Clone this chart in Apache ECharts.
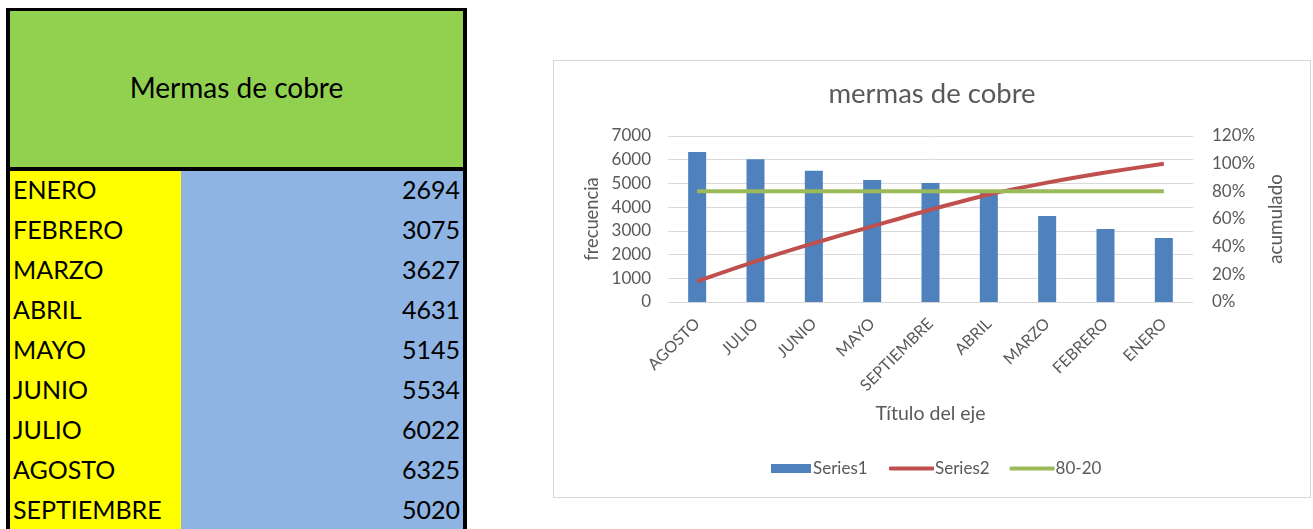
<!DOCTYPE html>
<html>
<head>
<meta charset="utf-8">
<script src="https://cdn.jsdelivr.net/npm/echarts@6/dist/echarts.min.js"></script>
<style>
    body { margin: 0; background: #fff; font-family: Lato, sans-serif; }
    .tabla {
        position: absolute; left: 6px; top: 8px; width: 453px;
        border: 4px solid #000; border-top-width: 3px; border-bottom: none;
    }
    .tabla .cab {
        height: 160px; background: #92D050; border-bottom: 4px solid #000;
        display: flex; align-items: center; justify-content: center;
        font-size: 28px; color: #000; padding-bottom: 4px; box-sizing: border-box;
    }
    .tabla .fila { display: flex; height: 40px; font-size: 25px; line-height: 36px; color: #000; }
    .tabla .mes { width: 171px; background: #FFFF00; padding-left: 3px; box-sizing: border-box; }
    .tabla .val { flex: 1; background: #8EB4E3; text-align: right; padding-right: 3px; }
    #grafico {
        position: absolute; left: 553px; top: 60px; width: 756px; height: 436px;
        border: 1px solid #D9D9D9;
    }
</style>
</head>
<body>
<div class="tabla" id="tabla"></div>
<div id="grafico"></div>
<script>
    // tabla de datos
    const tituloTabla = 'Mermas de cobre'
    const meses = ['ENERO', 'FEBRERO', 'MARZO', 'ABRIL', 'MAYO', 'JUNIO', 'JULIO', 'AGOSTO', 'SEPTIEMBRE']
    const mermas = [2694, 3075, 3627, 4631, 5145, 5534, 6022, 6325, 5020]

    // pareto
    const categorias = ['AGOSTO', 'JULIO', 'JUNIO', 'MAYO', 'SEPTIEMBRE', 'ABRIL', 'MARZO', 'FEBRERO', 'ENERO']
    const frecuencia = [6325, 6022, 5534, 5145, 5020, 4631, 3627, 3075, 2694]
    const acumulado = [0.150, 0.294, 0.425, 0.547, 0.667, 0.777, 0.863, 0.936, 1.0]
    const corte = [0.8, 0.8, 0.8, 0.8, 0.8, 0.8, 0.8, 0.8, 0.8]

    const tabla = document.getElementById('tabla')
    let html = '<div class="cab">' + tituloTabla + '</div>'
    meses.forEach((m, i) => {
        html += '<div class="fila"><div class="mes">' + m + '</div><div class="val">' + mermas[i] + '</div></div>'
    })
    tabla.innerHTML = html

    const gris = '#595959'
    const chart = echarts.init(document.getElementById('grafico'), null, { renderer: 'canvas' })

    chart.setOption({
        animation: false,
        textStyle: { fontFamily: 'Lato' },
        title: {
            text: 'mermas de cobre',
            left: 'center',
            top: 14,
            textStyle: { fontSize: 27.5, fontWeight: 'normal', color: gris, fontFamily: 'Lato' }
        },
        grid: { top: 75, left: 114, right: 117, bottom: 195 },
        legend: [{
            left: 212,
            top: 394,
            itemWidth: 40,
            itemHeight: 9,
            textStyle: { fontSize: 17, color: gris, padding: [0, 0, 0, -3] },
            data: [{ name: 'Series1', icon: 'rect' }]
        }, {
            left: 330,
            top: 394,
            itemWidth: 45,
            itemHeight: 4,
            itemGap: 20,
            textStyle: { fontSize: 17, color: gris, padding: [0, 0, 0, -4] },
            data: [
                { name: 'Series2', icon: 'roundRect' },
                { name: '80-20', icon: 'roundRect' }
            ]
        }],
        xAxis: {
            type: 'category',
            data: categorias,
            name: 'Título del eje',
            nameLocation: 'middle',
            nameGap: 102,
            nameTextStyle: { fontSize: 19.5, color: gris },
            axisLine: { lineStyle: { color: '#D9D9D9' } },
            axisTick: { show: false },
            axisLabel: { rotate: 45, fontSize: 16, color: gris, margin: 19, interval: 0 }
        },
        yAxis: [{
            type: 'value',
            min: 0,
            max: 7000,
            interval: 1000,
            name: 'frecuencia',
            nameLocation: 'middle',
            nameGap: 64,
            nameTextStyle: { fontSize: 18.3, color: gris },
            axisLabel: { fontSize: 17, color: gris, margin: 17, formatter: v => String(v) },
            splitLine: { lineStyle: { color: '#D9D9D9' } }
        }, {
            type: 'value',
            min: 0,
            max: 1.2,
            interval: 0.2,
            name: 'acumulado',
            nameLocation: 'middle',
            nameGap: 71,
            nameTextStyle: { fontSize: 18.8, color: gris },
            axisLabel: {
                fontSize: 17, color: gris, margin: 19,
                formatter: v => Math.round(v * 100) + '%'
            },
            splitLine: { show: false }
        }],
        series: [{
            name: 'Series1',
            type: 'bar',
            barWidth: 18,
            itemStyle: { color: '#4F81BD' },
            data: frecuencia
        }, {
            name: 'Series2',
            type: 'line',
            yAxisIndex: 1,
            symbol: 'none',
            smooth: 0.3,
            lineStyle: { color: '#C0504D', width: 4 },
            itemStyle: { color: '#C0504D' },
            data: acumulado
        }, {
            name: '80-20',
            type: 'line',
            yAxisIndex: 1,
            symbol: 'none',
            lineStyle: { color: '#9BBB59', width: 4 },
            itemStyle: { color: '#9BBB59' },
            data: corte
        }]
    })

    window.addEventListener('resize', () => {
        chart.resize()
    })
</script>
</body>
</html>
